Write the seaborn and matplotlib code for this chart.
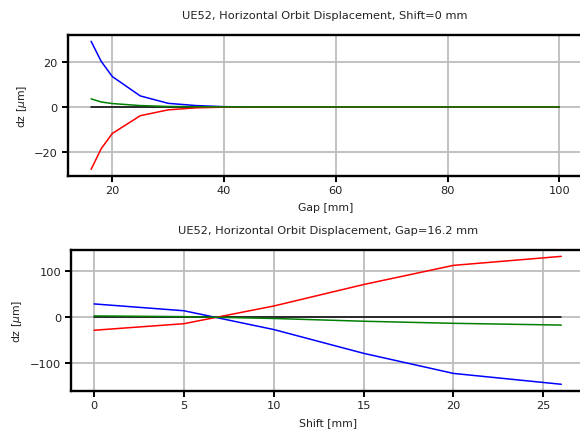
import numpy as np
import pandas as pd
import matplotlib
matplotlib.use("Agg")
import matplotlib.pyplot as plt
import seaborn as sns

# ---- data: top panel (vs gap, shift = 0 mm) ----
gap = [16.2, 18, 20, 25, 30, 35, 40, 50, 60, 70, 80, 90, 100]
gap_black = [0, 0, 0, 0, 0, 0, 0, 0, 0, 0, 0, 0, 0]
gap_blue = [29.2, 20.3, 13.5, 4.9, 1.6, 0.6, 0.1, 0, 0, 0, 0, 0, 0]
gap_red = [-27.8, -18.6, -11.8, -3.9, -1.3, -0.4, -0.1, 0, 0, 0, 0, 0, 0]
gap_green = [3.6, 2.2, 1.5, 0.6, 0.2, 0.1, 0.0, 0, 0, 0, 0, 0, 0]

# ---- data: bottom panel (vs shift, gap = 16.2 mm) ----
shift = [0, 5, 10, 15, 20, 26]
shift_black = [0, 0, 0, 0, 0, 0]
shift_blue = [29.0, 14.2, -26.5, -78.0, -121.5, -145.0]
shift_red = [-28.0, -13.8, 24.5, 71.0, 112.5, 132.0]
shift_green = [3.0, 1.5, -2.5, -8.5, -13.0, -16.8]

series_names = ["black", "blue", "red", "green"]
palette = {"black": "#000000", "blue": "#0000ff", "red": "#ff0000", "green": "#008000"}

top_titles = "UE52, Horizontal Orbit Displacement, Shift=0 mm"
bot_titles = "UE52, Horizontal Orbit Displacement, Gap=16.2 mm"


def long_frame(x, cols):
    rows = []
    for name, vals in zip(series_names, cols):
        for xi, yi in zip(x, vals):
            rows.append({"x": xi, "y": yi, "s": name})
    return pd.DataFrame(rows)


df_top = long_frame(gap, [gap_black, gap_blue, gap_red, gap_green])
df_bot = long_frame(shift, [shift_black, shift_blue, shift_red, shift_green])

sns.set_theme(style="ticks")
plt.rcParams["font.family"] = ["DejaVu Sans"]
plt.rcParams["mathtext.fontset"] = "dejavusans"

fig = plt.figure(figsize=(5.8, 4.31), dpi=100)
ax1 = fig.add_axes([0.1167, 0.590, 0.888, 0.327])
ax2 = fig.add_axes([0.122, 0.0912, 0.886, 0.327])

for ax, df, title, xlabel in [
    (ax1, df_top, top_titles, "Gap [mm]"),
    (ax2, df_bot, bot_titles, "Shift [mm]"),
]:
    sns.lineplot(data=df, x="x", y="y", hue="s", palette=palette,
                 hue_order=series_names, ax=ax, linewidth=1.1,
                 legend=False, sort=False, estimator=None)
    ax.grid(True, color="#bdbdbd", linewidth=1.3)
    ax.set_axisbelow(True)
    for sp in ax.spines.values():
        sp.set_color("black")
        sp.set_linewidth(1.7)
    ax.tick_params(axis="both", direction="out", length=4, width=1.4,
                   labelsize=8.2, colors="black", labelcolor="#222222", pad=3)
    ax.set_title(title, fontsize=8.2, pad=12, color="#222222")
    ax.set_xlabel(xlabel, fontsize=7.8, labelpad=5, color="#222222")
    ax.set_ylabel(r"dz [$\mu$m]", fontsize=7.8, labelpad=4, color="#222222")
    ax.set_facecolor("white")

ax1.set_xlim(12.01, 104.19)
ax1.set_ylim(-30.6, 32.1)
ax1.set_xticks([20, 40, 60, 80, 100])
ax1.set_yticks([-20, 0, 20])

ax2.set_xlim(-1.3, 27.3)
ax2.set_ylim(-158.9, 146.3)
ax2.set_xticks([0, 5, 10, 15, 20, 25])
ax2.set_yticks([-100, 0, 100])

fig.savefig("out.png", dpi=100, facecolor="white")
